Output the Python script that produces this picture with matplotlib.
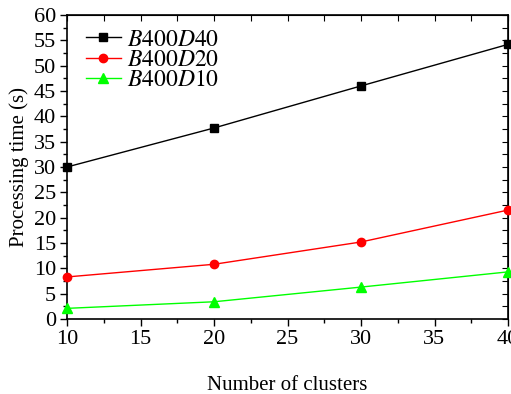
import matplotlib
matplotlib.use("Agg")
import matplotlib.pyplot as plt
from matplotlib.ticker import MultipleLocator

plt.rcParams['font.family'] = ['Liberation Serif', 'DejaVu Serif']
plt.rcParams['mathtext.fontset'] = 'stix'

# 数据
clusters = [10, 20, 30, 40]
d40 = [30.0, 37.7, 46.0, 54.2]
d20 = [8.3, 10.8, 15.2, 21.5]
d10 = [2.1, 3.4, 6.3, 9.3]
labels = [r'$B400D40$', r'$B400D20$', r'$B400D10$']

fig = plt.figure(figsize=(5.11, 3.94), dpi=100)
ax = fig.add_axes([67/511, 1-319/394, 441/511, 304/394])

ax.plot(clusters, d40, '-', color='black', lw=1, marker='s', ms=5.5, label=labels[0], clip_on=False, zorder=3)
ax.plot(clusters, d20, '-', color='red', lw=1, marker='o', ms=6, label=labels[1], clip_on=False, zorder=3)
ax.plot(clusters, d10, '-', color='#00ff00', lw=1, marker='^', ms=6.5, label=labels[2], clip_on=False, zorder=3)

ax.set_xlim(10, 40)
ax.set_ylim(0, 60)
ax.xaxis.set_major_locator(MultipleLocator(5))
ax.xaxis.set_minor_locator(MultipleLocator(2.5))
ax.yaxis.set_major_locator(MultipleLocator(5))
ax.yaxis.set_minor_locator(MultipleLocator(2.5))
ax.tick_params(which='both', direction='out', top=False, right=False, labelsize=16, width=1)
ax.tick_params(which='major', length=5, pad=3)
ax.tick_params(which='minor', length=3)

# 上边和右边的刻度向内
sec_x = ax.secondary_xaxis('top')
sec_x.xaxis.set_major_locator(MultipleLocator(2.5))
sec_x.tick_params(direction='in', length=4, labeltop=False)
sec_x.set_xticklabels([])
sec_y = ax.secondary_yaxis('right')
sec_y.yaxis.set_major_locator(MultipleLocator(2.5))
sec_y.tick_params(direction='in', length=4)
sec_y.set_yticklabels([])

for s in ax.spines.values():
    s.set_linewidth(1.2)

ax.set_xlabel('Number of clusters', fontsize=15, labelpad=19)
ax.set_ylabel('Processing time (s)', fontsize=15, labelpad=3)

ax.legend(loc='upper left', frameon=False, fontsize=17, handlelength=1.5,
          handletextpad=0.25, labelspacing=-0.05, borderaxespad=0.4,
          borderpad=0.2, bbox_to_anchor=(0.01, 1.0))

fig.savefig('out.png', dpi=100)
